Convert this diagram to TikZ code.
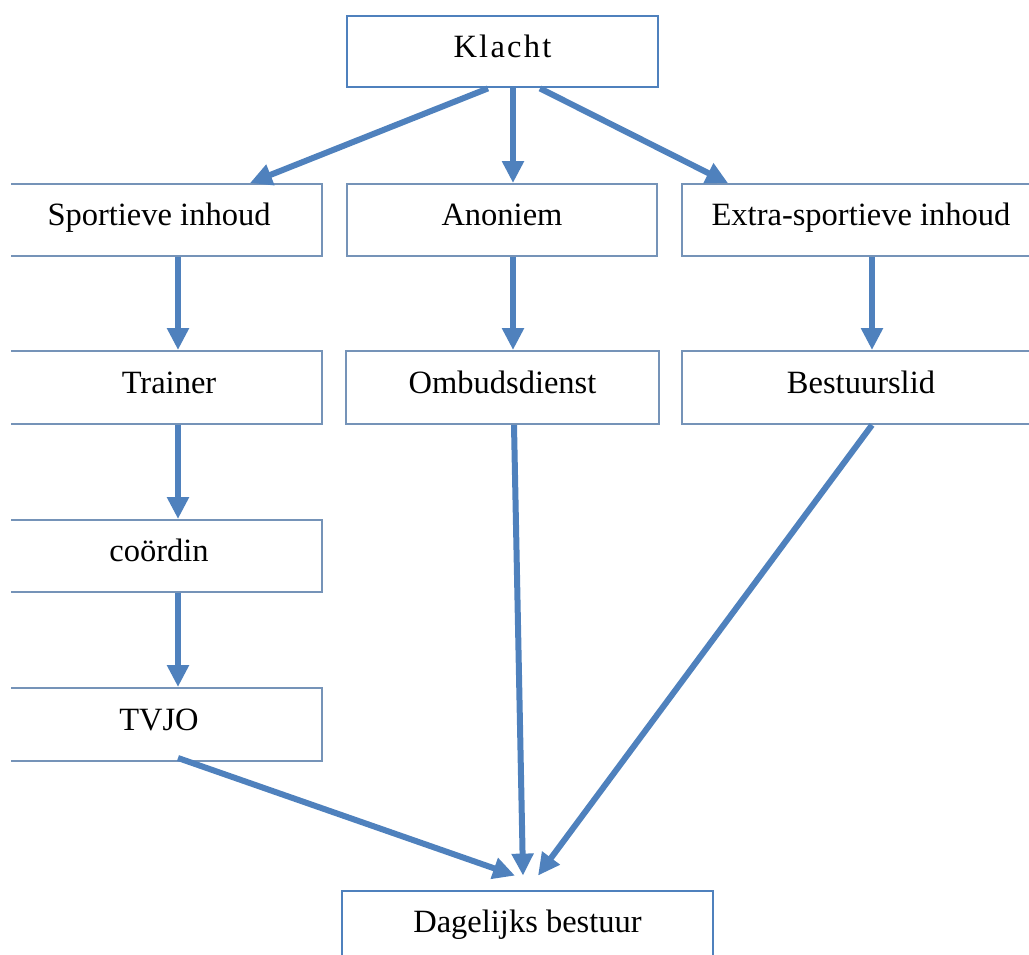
\documentclass[tikz,border=0pt]{standalone}
\usepackage{fontspec}
\setmainfont{Liberation Serif}
\usetikzlibrary{arrows.meta}
\definecolor{officeblue}{HTML}{4F81BD}
\definecolor{boxline}{HTML}{7593B8}
\begin{document}
\begin{tikzpicture}[x=1pt,y=-1pt,
    box/.style={draw=boxline,line width=2pt,rectangle,inner sep=0pt,
      minimum height=72pt,text height=21pt,text depth=10pt,
      font=\fontsize{32.5}{38}\selectfont},
    endbox/.style={box,draw=officeblue,line width=2.8pt},
    flow/.style={draw=officeblue,line width=6pt,
      -{Triangle[length=22pt,width=21pt]}}]
      \useasboundingbox (0,0) rectangle (1029,954);
      \clip (11,0) rectangle (1029,954);
      \draw
        (502.5,51.5) node[endbox,minimum width=311pt,minimum height=71pt] (k){\addfontfeature{LetterSpace=7}Klacht}
        (159,220) node[box,minimum width=326pt] (s){Sportieve inhoud}
        (502,220) node[box,minimum width=310pt] (a){Anoniem}
        (861,220) node[box,minimum width=358pt] (e){Extra-sportieve inhoud}
        (159,387.5) node[box,minimum width=326pt,minimum height=73pt] (t){\hspace*{20pt}Trainer}
        (502.5,387.5) node[box,minimum width=313pt,minimum height=73pt] (o){Ombudsdienst}
        (861,387.5) node[box,minimum width=358pt,minimum height=73pt] (b){Bestuurslid}
        (159,556) node[box,minimum width=326pt] (c){coördin}
        (159,724.5) node[box,minimum width=326pt,minimum height=73pt] (v){TVJO}
        (527.5,927) node[endbox,minimum width=371pt] (d){Dagelijks bestuur};
      \begin{scope}[flow]
        \draw ([xshift=-14.5pt]k.south) to ([xshift=91pt]s.north);
        \draw ([xshift=10.5pt]k.south) to ([xshift=11pt]a.north);
        \draw ([xshift=37.5pt]k.south) to ([xshift=-133pt]e.north);
        \draw ([xshift=19pt]s.south) to ([xshift=19pt]t.north);
        \draw ([xshift=11pt]a.south) to ([xshift=10.5pt]o.north);
        \draw ([xshift=11pt]e.south) to ([xshift=11pt]b.north);
        \draw ([xshift=19pt]t.south) to ([xshift=19pt]c.north);
        \draw ([xshift=19pt]c.south) to ([xshift=19pt]v.north);
        \draw ([xshift=19pt,yshift=4pt]v.south) to ([xshift=-12.5pt,yshift=14pt]d.north);
        \draw ([xshift=11.5pt]o.south) to ([xshift=-4.5pt,yshift=14pt]d.north);
        \draw ([xshift=11pt]b.south) to ([xshift=10.5pt,yshift=14pt]d.north);
      \end{scope}
    \end{tikzpicture}
\end{document}
